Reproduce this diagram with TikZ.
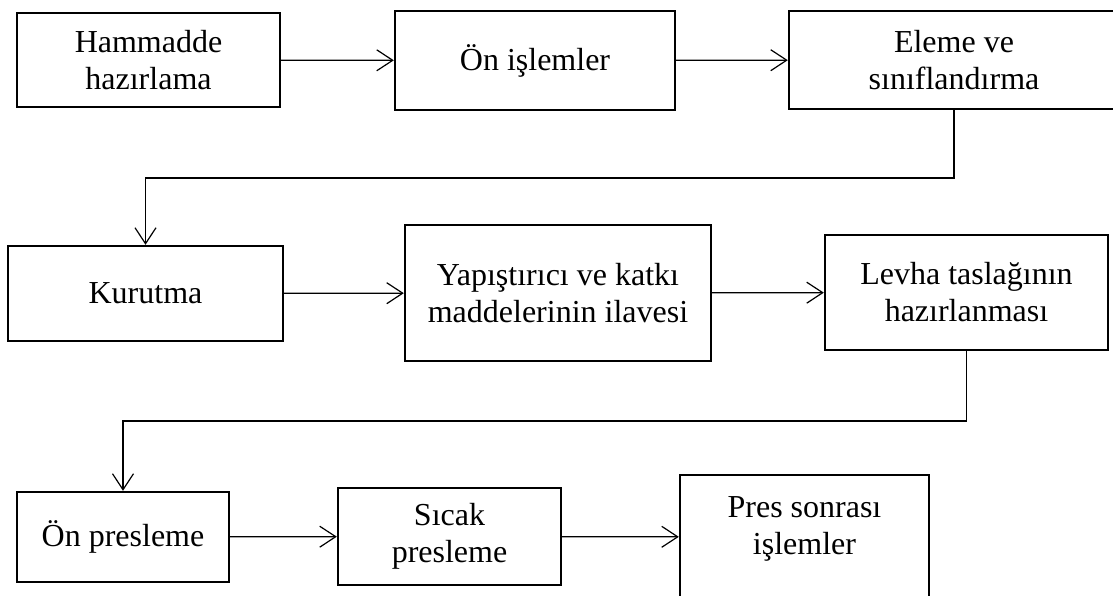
\documentclass[tikz,border=0pt]{standalone}
\usepackage{fontspec}
\setmainfont{Liberation Serif}
\usetikzlibrary{arrows.meta}
\begin{document}
\begin{tikzpicture}[x=1pt,y=-1pt,
  box/.style={draw,line width=2.4pt,inner sep=0pt,align=center,
    font=\fontsize{32}{37}\selectfont},
  arr/.style={line width=1.2pt,-{Straight Barb[length=16pt,width=21pt,line width=1.2pt]}}]
\useasboundingbox (0,0) rectangle (1113,596);
\clip (0,0) rectangle (1113,596);
\node[box,minimum width=263pt,minimum height=94pt] (b1) at (148.5,60) {Hammadde\\hazırlama};
\node[box,minimum width=280pt,minimum height=99pt] (b2) at (535,60.5) {Ön işlemler};
\node[box,minimum width=330pt,minimum height=98pt] (b3) at (954,60) {Eleme ve\\sınıflandırma};
\node[box,minimum width=275pt,minimum height=95pt] (b4) at (145.5,293.5) {Kurutma};
\node[box,minimum width=306pt,minimum height=136pt] (b5) at (558,293) {Yapıştırıcı ve katkı\\maddelerinin ilavesi};
\node[box,minimum width=283pt,minimum height=115pt] (b6) at (966.5,292.5) {Levha taslağının\\hazırlanması};
\node[box,minimum width=212pt,minimum height=90pt] (b7) at (123,537) {Ön presleme};
\node[box,minimum width=223pt,minimum height=97pt] (b8) at (449.5,536.5) {Sıcak\\presleme};
\node[box,minimum width=249pt,minimum height=124pt,text depth=22pt] (b9) at (804.5,537) {Pres sonrası\\işlemler};
\coordinate (t1) at (0,178);
\coordinate (t2) at (0,421);
\draw[arr] (b1) -- (b2);
\draw[arr] (b2) -- (b3);
\draw[arr] (b3.south) -- (b3.south |- t1) -| (b4.north);
\draw[arr] (b4) -- (b5);
\draw[arr] (b5) -- (b6);
\draw[arr] (b6.south) -- (b6.south |- t2) -| (b7.north);
\draw[arr] (b7) -- (b8);
\draw[arr] (b8) -- (b9);
\end{tikzpicture}
\end{document}
